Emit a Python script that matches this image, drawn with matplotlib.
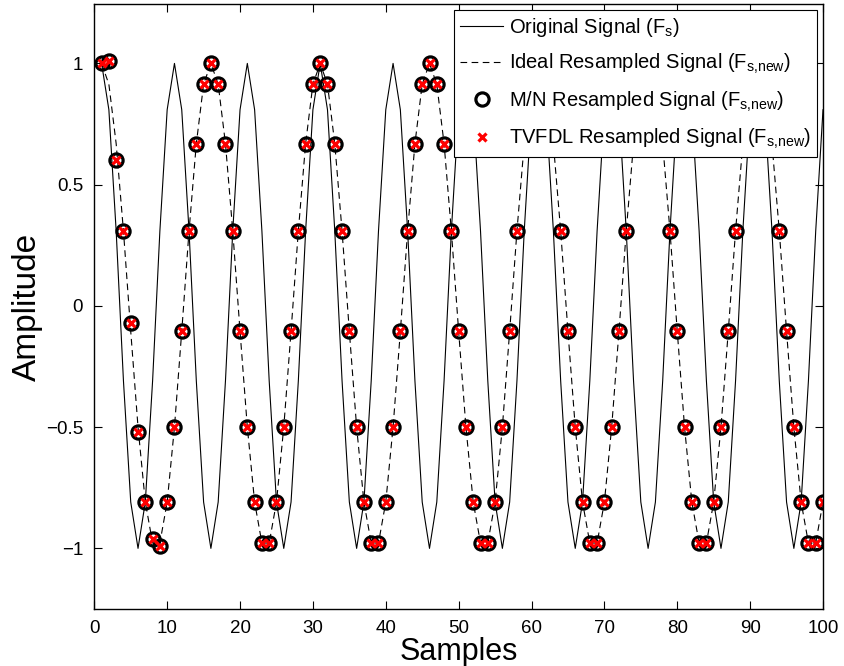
import matplotlib
matplotlib.use("Agg")
import matplotlib.pyplot as plt
import numpy as np

plt.rcParams['font.family'] = ['Liberation Sans', 'DejaVu Sans']
plt.rcParams['mathtext.default'] = 'regular'

# ---------------- data ----------------
samples = list(range(1, 101))

# Original signal (period 10 samples)
orig_cycle = [1.0, 0.809, 0.309, -0.309, -0.809, -1.0, -0.809, -0.309, 0.309, 0.809]
original = orig_cycle * 10

# Ideal resampled signal (period 15 samples)
ideal_cycle = [1.0, 0.914, 0.669, 0.309, -0.105, -0.5, -0.809, -0.978,
               -0.978, -0.809, -0.5, -0.105, 0.309, 0.669, 0.914]
ideal = (ideal_cycle * 7)[:100]

# M/N resampled signal: start-up transient then matches ideal
mn_start = [1.0, 1.01, 0.60, 0.31, -0.07, -0.52, -0.81, -0.96, -0.99]
mn = mn_start + ideal[len(mn_start):]

# TVFDL resampled signal
tvfdl = list(mn)

xticks = [0, 10, 20, 30, 40, 50, 60, 70, 80, 90, 100]
yticks = [-1, -0.5, 0, 0.5, 1]
yticklabels = ['\u22121', '\u22120.5', '0', '0.5', '1']

# ---------------- plot ----------------
fig = plt.figure(figsize=(8.45, 6.66), dpi=100)
ax = fig.add_axes([94.3 / 845, 57 / 666, (823 - 94.3) / 845, (609 - 4) / 666])

ax.plot(samples, original, color='black', lw=0.8, label='Original Signal (F$_s$)')
ax.plot(samples, ideal, color='black', lw=0.8, ls=(0, (6, 4)),
        label='Ideal Resampled Signal (F$_{s{,}new}$)')
ax.plot(samples, mn, ls='none', marker='o', ms=9.5, mfc='none', mec='black', mew=2.3,
        label='M/N Resampled Signal (F$_{s{,}new}$)')
ax.plot(samples, tvfdl, ls='none', marker='x', ms=5.5, mec='red', mew=2.3,
        label='TVFDL Resampled Signal (F$_{s{,}new}$)')

ax.set_xlim(0, 100)
ax.set_ylim(-1.25, 1.245)
ax.set_xticks(xticks)
ax.set_yticks(yticks)
ax.set_yticklabels(yticklabels)
ax.tick_params(direction='in', top=True, right=True, labelsize=13.5, length=6, width=0.8)
ax.tick_params(axis='x', pad=8)
ax.tick_params(axis='y', pad=8)
for s in ax.spines.values():
    s.set_linewidth(1.0)

ax.set_xlabel('Samples', fontsize=22, labelpad=0)
ax.set_ylabel('Amplitude', fontsize=24, labelpad=2)

leg = ax.legend(loc='upper right', fontsize=14.5, frameon=True, fancybox=False,
                edgecolor='black', framealpha=1, borderaxespad=0.3,
                handlelength=2.1, handletextpad=0.3, labelspacing=0.65,
                borderpad=0.3)
leg.get_frame().set_linewidth(0.8)

fig.savefig('out.png', dpi=100)
